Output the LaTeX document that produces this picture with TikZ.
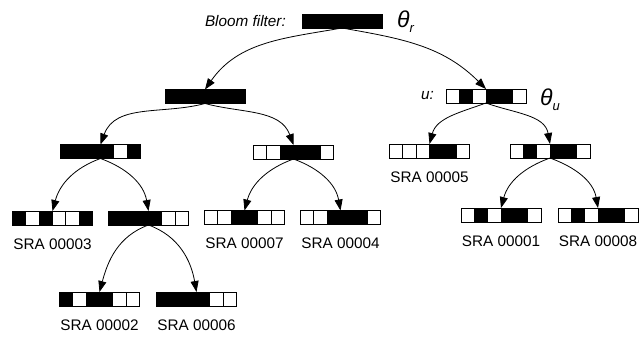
\documentclass[tikz,border=0pt]{standalone}
\usepackage{fontspec}
\setmainfont{Liberation Sans}
\usetikzlibrary{arrows.meta,positioning,calc}

% one bit vector of six cells, 1 = black
\newcommand{\bitvec}[3]{%
  \node[vec] (#1) at (#2) {};
  \foreach \b [count=\i from 0] in {#3} {
    \ifnum\b=1 \def\cellcol{black}\else\def\cellcol{white}\fi
    \draw[cell, fill=\cellcol] ($(#1.south west)+(\i*13.333,0)$) rectangle +(13.333,14);
  }
}

\begin{document}
\begin{tikzpicture}[x=1pt,y=1pt,
    vec/.style={minimum width=80pt, minimum height=14pt, inner sep=0pt, outer sep=0pt},
    cell/.style={line width=0.8pt},
    sra/.style={inner sep=0pt, font=\fontsize{15.3}{17}\selectfont},
    lbl/.style={inner sep=0pt, font=\fontsize{15.3}{17}\selectfont\itshape},
    theta/.style={inner sep=0pt, anchor=base west, font=\fontsize{23}{25}\selectfont\itshape},
    edge/.style={line width=0.8pt, -{Triangle[length=11pt,width=8pt]}}]
  \useasboundingbox (0,0) rectangle (639,338);

  \bitvec{root}{342,317}{1,1,1,1,1,1}
  \bitvec{l1}{205,241.5}{1,1,1,1,1,1}
  \bitvec{l2a}{100.5,186.5}{1,1,1,1,0,1}
  \bitvec{s3}{52.5,120}{1,0,1,0,0,1}
  \bitvec{n4}{148.5,120}{1,1,1,1,0,0}
  \bitvec{s2}{99.5,39}{1,0,1,1,0,0}
  \bitvec{s6}{196.5,39}{1,1,1,1,0,0}
  \bitvec{l2b}{293.5,186}{0,0,1,1,1,0}
  \bitvec{s7}{244.5,120.5}{0,0,1,1,0,0}
  \bitvec{s4}{340.5,120.5}{0,0,1,1,1,0}
  \bitvec{u}{486,242}{0,1,0,1,1,0}
  \bitvec{s5}{429.5,187}{0,0,0,1,1,0}
  \bitvec{r2}{550,187}{0,1,0,1,1,0}
  \bitvec{s1}{501,123}{0,1,0,1,1,0}
  \bitvec{s8}{598,123}{0,1,0,1,1,0}

  \node[lbl, left=16pt of root] (bloom) {Bloom filter:};
  \node[theta] (thr) at (397,310) {θ\raisebox{-5pt}{\fontsize{13}{14}\selectfont r}};
  \node[lbl, left=12pt of u] (ulbl) {u:};
  \node[theta] (thu) at (540,233) {θ\raisebox{-5pt}{\fontsize{13}{14}\selectfont u}};

  \node[sra, below=13.5pt of s3] (s3lbl) {SRA 00003};
  \node[sra, below=13.5pt of s2] (s2lbl) {SRA 00002};
  \node[sra, below=13.5pt of s6] (s6lbl) {SRA 00006};
  \node[sra, below=13.5pt of s7] (s7lbl) {SRA 00007};
  \node[sra, below=13.5pt of s4] (s4lbl) {SRA 00004};
  \node[sra, below=13.5pt of s5] (s5lbl) {SRA 00005};
  \node[sra, below=13.5pt of s1] (s1lbl) {SRA 00001};
  \node[sra, below=13.5pt of s8] (s8lbl) {SRA 00008};

  \draw[edge] (root.south) to[out=190,in=55] (l1.north);
  \draw[edge] (root.south) to[out=-10,in=135] (u.north);
  \draw[edge] (l1.south) to[out=195,in=70] (l2a.north);
  \draw[edge] (l1.south) to[out=-15,in=110] (l2b.north);
  \draw[edge] (l2a.south) to[out=200,in=75] (s3.north);
  \draw[edge] (l2a.south) to[out=-20,in=100] (n4.north);
  \draw[edge] (n4.south) to[out=200,in=75] (s2.north);
  \draw[edge] (n4.south) to[out=-20,in=100] (s6.north);
  \draw[edge] (l2b.south) to[out=200,in=75] (s7.north);
  \draw[edge] (l2b.south) to[out=-20,in=100] (s4.north);
  \draw[edge] (u.south) to[out=200,in=75] (s5.north);
  \draw[edge] (u.south) to[out=-20,in=100] (r2.north);
  \draw[edge] (r2.south) to[out=200,in=75] (s1.north);
  \draw[edge] (r2.south) to[out=-20,in=100] (s8.north);
\end{tikzpicture}
\end{document}
